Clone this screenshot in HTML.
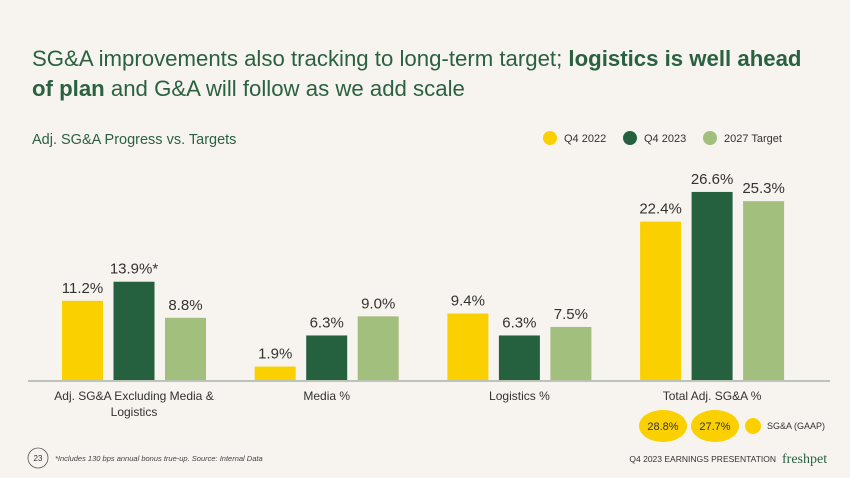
<!DOCTYPE html>
<html><head><meta charset="utf-8"><style>
body{margin:0;width:850px;height:478px;background:#f7f3ef;font-family:"Liberation Sans",sans-serif;position:relative;overflow:hidden}
.t{position:absolute;left:32px;top:44px;font-size:22.2px;color:#2a6140;line-height:30px;width:785px}
.sub{position:absolute;left:32px;top:132px;font-size:14.5px;color:#2a6140}
</style></head><body>
<div class="t">SG&amp;A improvements also tracking to long-term target; <b>logistics is well ahead of plan</b> and G&amp;A will follow as we add scale</div>
<div class="sub">Adj. SG&amp;A Progress vs. Targets</div>
<svg id="c" width="850" height="478" style="position:absolute;left:0;top:0"></svg>
<script>
const categories=["Adj. SG&A Excluding Media &|Logistics","Media %","Logistics %","Total Adj. SG&A %"];
const seriesNames=["Q4 2022","Q4 2023","2027 Target"];
const q42022=[11.2,1.9,9.4,22.4];
const q42023=[13.9,6.3,6.3,26.6];
const target2027=[8.8,9.0,7.5,25.3];
const labels=[["11.2%","1.9%","9.4%","22.4%"],["13.9%*","6.3%","6.3%","26.6%"],["8.8%","9.0%","7.5%","25.3%"]];
const colors=["#fbd000","#26613f","#a3bf7d"];
const svg=document.getElementById('c');const NS="http://www.w3.org/2000/svg";
function mk(t,a,p){const e=document.createElementNS(NS,t);for(const k in a)e.setAttribute(k,a[k]);(p||svg).appendChild(e);return e;}
const base=380,ppu=7.07;
const y=v=>base-v*ppu;
const gx=i=>62+i*192.7;
const series=[q42022,q42023,target2027];
series.forEach((s,si)=>{s.forEach((v,i)=>{
 const x=gx(i)+si*51.5;
 const r=mk('rect',{x:x,y:y(v),width:41,height:base-y(v),fill:colors[si]});
 
 
 const t=mk('text',{x:x+20.5,y:y(v)-8,'text-anchor':'middle','font-size':15,fill:'#333'});
 t.textContent=labels[si][i];
 
 
});});
const ax=mk('line',{x1:28,x2:830,y1:base+1,y2:base+1,stroke:'#a9b4a8','stroke-width':1.5});


categories.forEach((c,i)=>{c.split('|').forEach((ln,j)=>{
 const t=mk('text',{x:gx(i)+72,y:400+j*16,'text-anchor':'middle','font-size':12,fill:'#333'});
 t.textContent=ln;
 
 
});});
const lx=[550,630,710];
seriesNames.forEach((n,i)=>{
 const c=mk('circle',{cx:lx[i],cy:138,r:7,fill:colors[i]});
 
 
 const t=mk('text',{x:lx[i]+14,y:142,'font-size':11,fill:'#333'});
 t.textContent=n;
 
 
});
[[663,"28.8%"],[715,"27.7%"]].forEach(([x,s])=>{
 const e=mk('ellipse',{cx:x,cy:426,rx:24,ry:16,fill:'#fbd000'});
 
 
 const t=mk('text',{x:x,y:430,'text-anchor':'middle','font-size':11,fill:'#333'});
 t.textContent=s;
 
 
});
const gc=mk('circle',{cx:753,cy:426,r:8,fill:'#fbd000'});


const gt=mk('text',{x:767,y:429,'font-size':9,fill:'#333'});gt.textContent="SG&A (GAAP)";


const pc=mk('circle',{cx:38,cy:458,r:10,fill:'none',stroke:'#555','stroke-width':0.8});


const pn=mk('text',{x:38,y:461,'text-anchor':'middle','font-size':8,fill:'#333'});pn.textContent="23";


const fn=mk('text',{x:55,y:461,'font-size':7.5,'font-style':'italic',fill:'#444'});fn.textContent="*Includes 130 bps annual bonus true-up. Source: Internal Data";


const ft=mk('text',{x:776,y:462,'text-anchor':'end','font-size':8.5,fill:'#333'});ft.textContent="Q4 2023 EARNINGS PRESENTATION";


const lg=mk('text',{x:782,y:463,'font-size':14,fill:'#2a6140','font-family':'Liberation Serif, serif'});lg.textContent="freshpet";


</script>
</body></html>
